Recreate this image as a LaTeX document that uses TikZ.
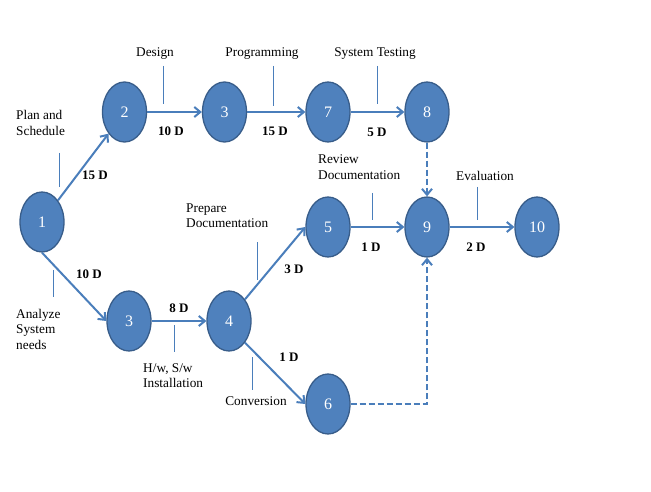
\documentclass[tikz,border=0pt]{standalone}
\usepackage{fontspec}
\setmainfont{Liberation Serif}
\usetikzlibrary{shapes.geometric,arrows.meta}
\definecolor{nodefill}{HTML}{4F81BD}
\definecolor{nodeedge}{HTML}{385D8A}
\definecolor{linec}{HTML}{4A7EBB}
\begin{document}
\begin{tikzpicture}[x=1pt,y=-1pt,
 ev/.style={ellipse,draw=nodeedge,line width=1.3pt,fill=nodefill,minimum width=44pt,minimum height=60pt,inner sep=0pt,text=white,font=\fontsize{16}{16}\selectfont},
 act/.style={draw=linec,line width=2pt,-{Straight Barb[length=6pt,width=10pt]}},
 dum/.style={act,dash pattern=on 6pt off 3pt},
 lead/.style={draw=linec,line width=0.9pt},
 lbl/.style={font=\fontsize{13.3}{15.5}\selectfont,inner sep=0pt,align=left},
 dur/.style={font=\bfseries\fontsize{13}{15}\selectfont,inner sep=0pt}]
\useasboundingbox[fill=white] (0,0) rectangle (651,492);
% events
\node[ev] (n1) at (42,222) {1};
\node[ev] (n2) at (124.5,112) {2};
\node[ev] (n3) at (224.5,112) {3};
\node[ev] (n7) at (328,112) {7};
\node[ev] (n8) at (427,112) {8};
\node[ev] (n5) at (328,227) {5};
\node[ev] (n9) at (427,227) {9};
\node[ev] (n10) at (537,227) {10};
\node[ev] (n3b) at (129,321) {3};
\node[ev] (n4) at (229,321) {4};
\node[ev] (n6) at (328,404) {6};
% activities
\draw[act] (n1.north east) -- (n2.south west);
\draw[act] (n2) -- (n3);
\draw[act] (n3) -- (n7);
\draw[act] (n7) -- (n8);
\draw[dum] (n8) -- (n9);
\draw[act] (n1.south) -- (n3b.west);
\draw[act] (n3b) -- (n4);
\draw[act] (n4.north east) -- (n5.west);
\draw[act] (n4.south east) -- (n6.west);
\draw[act] (n5) -- (n9);
\draw[act] (n9) -- (n10);
\draw[dum] (n6.east) -| (n9.south);
% leader lines
\draw[lead] (163,66) -- (163,104);
\draw[lead] (273,66) -- (273,106);
\draw[lead] (377,66) -- (377,104);
\draw[lead] (59,153) -- (59,187);
\draw[lead] (372,193) -- (372,220);
\draw[lead] (477,187) -- (477,220);
\draw[lead] (53,270) -- (53,297);
\draw[lead] (257,242) -- (257,280);
\draw[lead] (174,325) -- (174,352);
\draw[lead] (252,357) -- (252,390);
% activity labels
\node[lbl] (tDesign) at (155,54) {Design};
\node[lbl] (tProg) at (262,54) {Programming};
\node[lbl] (tTest) at (375,54) {System Testing};
\node[lbl,anchor=west] (tPlan) at (16,123) {Plan and\\Schedule};
\node[lbl,anchor=west] (tReview) at (318,167) {Review\\Documentation};
\node[lbl] (tEval) at (485,176) {Evaluation};
\node[lbl,anchor=west] (tPrep) at (186,215.5) {Prepare\\Documentation};
\node[lbl,anchor=west] (tAnal) at (16,329) {Analyze\\System\\needs};
\node[lbl,anchor=west] (tHw) at (143,375.5) {H/w, S/w\\Installation};
\node[lbl] (tConv) at (256,401) {Conversion};
% durations
\node[dur] (d1) at (171,131) {10 D};
\node[dur] (d2) at (275,131) {15 D};
\node[dur] (d3) at (377,132) {5 D};
\node[dur] (d4) at (95,175) {15 D};
\node[dur] (d5) at (371,247) {1 D};
\node[dur] (d6) at (476,247) {2 D};
\node[dur] (d7) at (294,269) {3 D};
\node[dur] (d8) at (89,274) {10 D};
\node[dur] (d9) at (179,308) {8 D};
\node[dur] (d10) at (289,357) {1 D};
\end{tikzpicture}
\end{document}
